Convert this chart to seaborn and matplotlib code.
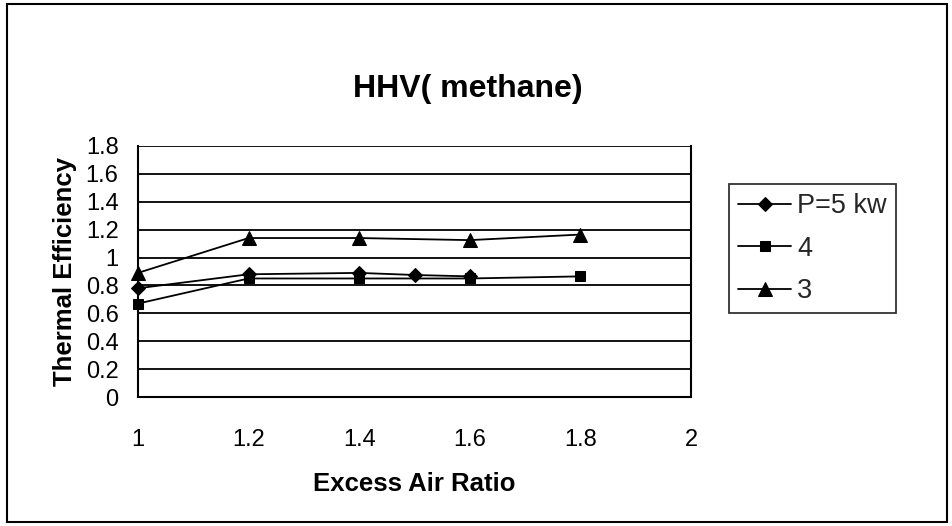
import matplotlib
matplotlib.use("Agg")
import matplotlib.pyplot as plt
import seaborn as sns
from matplotlib.patches import Rectangle

sns.set_theme(style="white")
plt.rcParams['font.family'] = ['Liberation Sans', 'DejaVu Sans']

title = "HHV( methane)"
x_label = "Excess Air Ratio"
y_label = "Thermal Efficiency"

series_names = ["P=5 kw", "4", "3"]
x_p5 = [1.0, 1.2, 1.4, 1.5, 1.6]
y_p5 = [0.78, 0.88, 0.89, 0.875, 0.865]
x_p4 = [1.0, 1.2, 1.4, 1.6, 1.8]
y_p4 = [0.67, 0.85, 0.85, 0.85, 0.865]
x_p3 = [1.0, 1.2, 1.4, 1.6, 1.8]
y_p3 = [0.89, 1.14, 1.14, 1.125, 1.165]

x_ticks = [1, 1.2, 1.4, 1.6, 1.8, 2]
x_tick_labels = ["1", "1.2", "1.4", "1.6", "1.8", "2"]
y_ticks = [0, 0.2, 0.4, 0.6, 0.8, 1.0, 1.2, 1.4, 1.6, 1.8]
y_tick_labels = ["0", "0.2", "0.4", "0.6", "0.8", "1", "1.2", "1.4", "1.6", "1.8"]

fig = plt.figure(figsize=(9.52, 5.26), dpi=100)
ax = fig.add_axes([138/952, 1 - 397/526, (691-138)/952, (397-146)/526])

markers = ["D", "s", "^"]
msizes = [7, 7.5, 9.5]
for xs, ys, name, m, ms in zip([x_p5, x_p4, x_p3], [y_p5, y_p4, y_p3], series_names, markers, msizes):
    sns.lineplot(x=xs, y=ys, ax=ax, color="black", marker=m, markersize=ms,
                 markeredgecolor="black", markerfacecolor="black", linewidth=1.3,
                 label=name, clip_on=False, zorder=5)

ax.set_xlim(1, 2)
ax.set_ylim(0, 1.8)
ax.set_xticks(x_ticks)
ax.set_xticklabels(x_tick_labels)
ax.set_yticks(y_ticks)
ax.set_yticklabels(y_tick_labels)
ax.tick_params(axis="both", direction="out", length=7, width=1.3, color="black",
               labelsize=17, labelcolor="black")
ax.tick_params(axis="x", pad=16)
ax.tick_params(axis="y", pad=7)
ax.yaxis.grid(True, color="black", linewidth=1.3)
ax.set_axisbelow(True)
for side in ["left", "bottom", "right"]:
    ax.spines[side].set_visible(True)
    ax.spines[side].set_color("black")
    ax.spines[side].set_linewidth(1.5)
ax.spines["top"].set_visible(False)

ax.set_xlabel(x_label, fontsize=18.5, fontweight="bold", labelpad=15, color="black")
ax.set_ylabel(y_label, fontsize=18.5, fontweight="bold", labelpad=6, color="black")
fig.text(468/952, 1 - 97/526, title, fontsize=23, fontweight="bold", ha="center", va="baseline", color="black")

leg = ax.legend(loc="upper left", bbox_to_anchor=(729/952, 1 - 184/526), bbox_transform=fig.transFigure,
                frameon=True, fancybox=False, fontsize=19.5, handlelength=1.95, handletextpad=0.22,
                labelspacing=0.6, borderpad=0.35, borderaxespad=0)
leg.get_frame().set_edgecolor("black")
leg.get_frame().set_linewidth(1.3)

fig.patches.append(Rectangle((7/952, 4/526), (947-7)/952, (522-4)/526, transform=fig.transFigure,
                             fill=False, edgecolor="black", linewidth=1.5))

fig.savefig("out.png", dpi=100, facecolor="white")
